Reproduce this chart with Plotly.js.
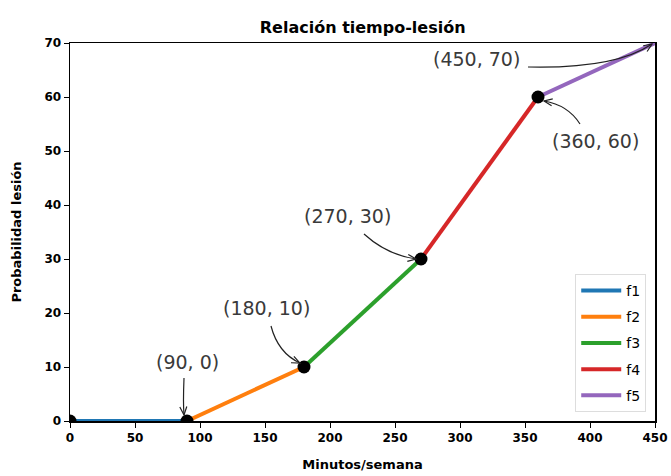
<!DOCTYPE html>
<html>
<head>
<meta charset="utf-8">
<script src="https://cdn.plot.ly/plotly-3.0.1.min.js"></script>
<style>html,body{margin:0;padding:0;background:#fff;}#chart{width:671px;height:476px;}</style>
</head>
<body>
<div id="chart"></div>
<script>
// Data
const pointsX = [0, 90, 180, 270, 360, 450];
const pointsY = [0, 0, 10, 30, 60, 70];
const seriesNames = ['f1', 'f2', 'f3', 'f4', 'f5'];
const seriesColors = ['#1f77b4', '#ff7f0e', '#2ca02c', '#d62728', '#9467bd'];
const markerX = [0, 90, 180, 270, 360];
const markerY = [0, 0, 10, 30, 60];
const annotIdx = [1, 2, 3, 4, 5];

// Annotation layout (pixel offsets relative to the point, screen coords: y down)
const annotStyle = [
  {text: [0, -59], s: [-3, -43], c: [-4, -18], e: [-3, -6]},
  {text: [-38, -59], s: [-33, -41], c: [-26, -14], e: [-4, -4]},
  {text: [-74, -43], s: [-57, -25], c: [-34, -4], e: [-5, 0]},
  {text: [57, 44], s: [42, 27], c: [30, 8], e: [6, 4]},
  {text: [-179, 16], s: [-127, 24], c: [-40, 26], e: [-3, 1]}
];

const traces = [];
for (let i = 0; i < seriesNames.length; i++) {
  traces.push({
    x: [pointsX[i], pointsX[i + 1]],
    y: [pointsY[i], pointsY[i + 1]],
    mode: 'lines',
    name: seriesNames[i],
    legendgroup: seriesNames[i],
    line: {color: seriesColors[i], width: 4},
    type: 'scatter'
  });
}
traces.push({
  x: markerX, y: markerY, mode: 'markers', showlegend: false,
  marker: {color: '#000', size: 13}, type: 'scatter', cliponaxis: true
});

const annotations = [];
const shapes = [];
annotIdx.forEach((k, j) => {
  const st = annotStyle[j];
  const px = pointsX[k], py = pointsY[k];
  annotations.push({
    x: px, y: py, xref: 'x', yref: 'y', showarrow: false,
    text: '(' + px + ', ' + py + ')',
    xshift: st.text[0], yshift: -st.text[1],
    font: {family: 'DejaVu Sans', size: 19, color: '#3a3a3a'}
  });
  const f = v => [v[0], -v[1]];
  const s = f(st.s), c = f(st.c), e = f(st.e);
  shapes.push({
    type: 'path', xref: 'x', yref: 'y', xsizemode: 'pixel', ysizemode: 'pixel',
    xanchor: px, yanchor: py,
    path: `M ${s[0]} ${s[1]} Q ${c[0]} ${c[1]} ${e[0]} ${e[1]}`,
    line: {color: '#222', width: 1.2}
  });
  const ang = Math.atan2(e[1] - c[1], e[0] - c[0]);
  const L = 9, a = 0.4;
  const h1 = [e[0] - L * Math.cos(ang - a), e[1] - L * Math.sin(ang - a)];
  const h2 = [e[0] - L * Math.cos(ang + a), e[1] - L * Math.sin(ang + a)];
  shapes.push({
    type: 'path', xref: 'x', yref: 'y', xsizemode: 'pixel', ysizemode: 'pixel',
    xanchor: px, yanchor: py,
    path: `M ${h1[0]} ${h1[1]} L ${e[0]} ${e[1]} L ${h2[0]} ${h2[1]}`,
    line: {color: '#222', width: 1.2}
  });
});

const tickFont = {family: 'DejaVu Sans', size: 12, color: '#000', weight: 'bold'};
const layout = {
  width: 671, height: 476,
  margin: {l: 70, r: 16, t: 43, b: 55},
  paper_bgcolor: '#fff', plot_bgcolor: '#fff',
  title: {text: 'Relación tiempo-lesión', x: 0.5405, xanchor: 'center', y: 0.943, yanchor: 'middle',
    font: {family: 'DejaVu Sans', size: 16, color: '#000', weight: 'bold'}},
  xaxis: {
    range: [0, 450], tickvals: [0, 50, 100, 150, 200, 250, 300, 350, 400, 450],
    showgrid: false, zeroline: false, showline: true, mirror: true, linecolor: '#000', linewidth: 1.5,
    ticks: 'outside', ticklen: 5, tickcolor: '#000', tickfont: tickFont,
    title: {text: 'Minutos/semana', font: {family: 'DejaVu Sans', size: 13, color: '#000', weight: 'bold'}, standoff: 16}
  },
  yaxis: {
    range: [0, 70], tickvals: [0, 10, 20, 30, 40, 50, 60, 70],
    showgrid: false, zeroline: false, showline: true, mirror: true, linecolor: '#000', linewidth: 1.5,
    ticks: 'outside', ticklen: 5, tickcolor: '#000', tickfont: tickFont,
    title: {text: 'Probabilidad lesión', font: {family: 'DejaVu Sans', size: 13, color: '#000', weight: 'bold'}, standoff: 20}
  },
  legend: {
    x: 0.985, y: 0.024, xanchor: 'right', yanchor: 'bottom',
    bgcolor: '#fff', bordercolor: '#ddd', borderwidth: 1,
    font: {family: 'DejaVu Sans', size: 14, color: '#000'},
    itemwidth: 40, traceorder: 'grouped', tracegroupgap: 5
  },
  annotations: annotations,
  shapes: shapes,
  showlegend: true
};

Plotly.newPlot('chart', traces, layout, {displayModeBar: false, staticPlot: true});
</script>
</body>
</html>
